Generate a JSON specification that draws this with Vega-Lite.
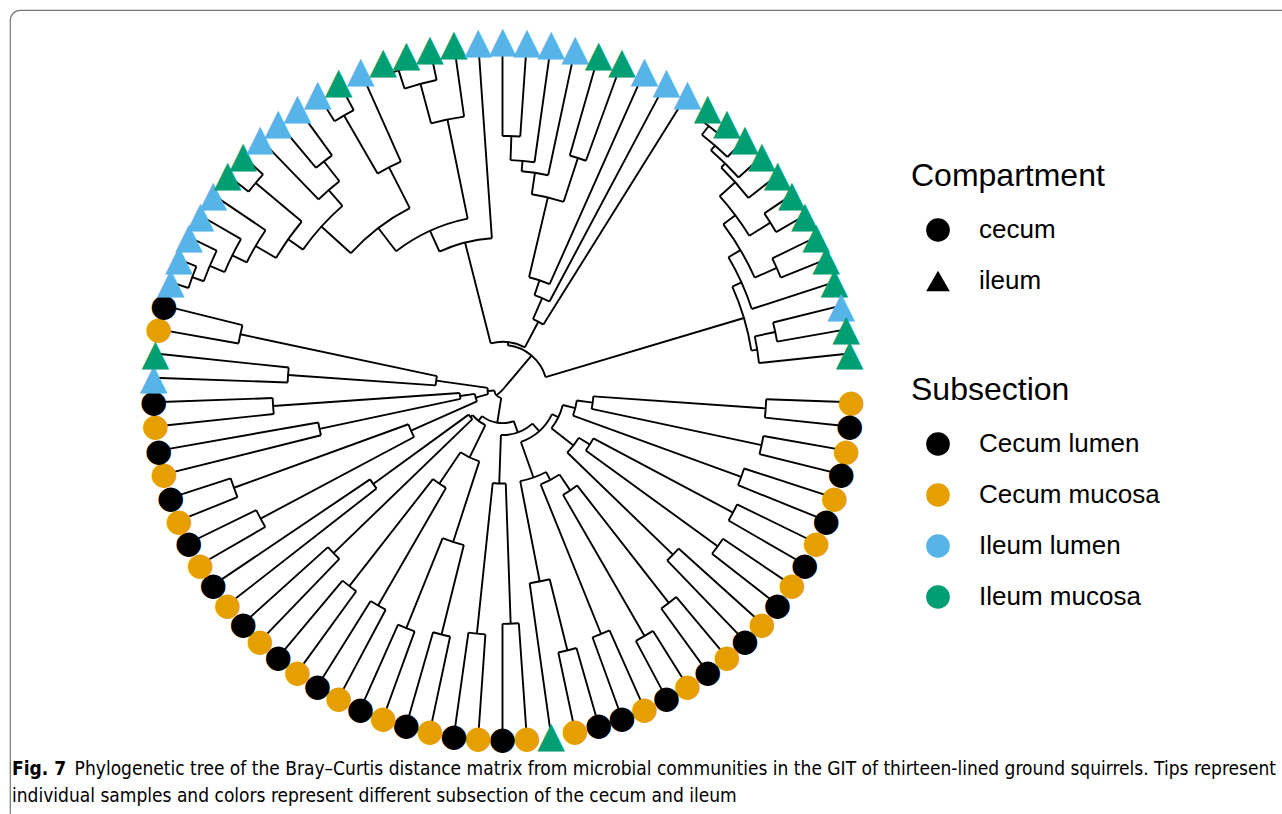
{
  "$schema": "https://vega.github.io/schema/vega-lite/v6.json",
  "width": 1292,
  "height": 824,
  "autosize": {"type": "none"},
  "padding": {"left": 10, "top": 10, "right": -20, "bottom": -20},
  "background": "white",
  "title": {
    "text": "Fig. 7",
    "subtitle": [
      "\u2800\u2800\u2800\u2800\u2800Phylogenetic tree of the Bray\u2013Curtis distance matrix from microbial communities in the GIT of thirteen-lined ground squirrels. Tips represent",
      "individual samples and colors represent different subsection of the cecum and ileum"
    ],
    "orient": "bottom",
    "anchor": "start",
    "frame": "group",
    "offset": -74,
    "dx": 2,
    "font": "DejaVu Sans Condensed",
    "fontSize": 19,
    "fontWeight": "bold",
    "color": "black",
    "subtitleFont": "DejaVu Sans Condensed",
    "subtitleFontSize": 19,
    "subtitleFontWeight": "normal",
    "subtitleColor": "black",
    "subtitleLineHeight": 27,
    "subtitlePadding": -19,
    "limit": 0
  },
  "datasets": {
    "nodes": [
      {"id": "root", "a": 227.53, "r": 0},
      {"id": "U", "parent": "root", "a": 40.05, "r": 0.129, "amin": 6.71, "amax": 73.39},
      {"id": "P", "parent": "U", "a": 6.71, "r": 0.138, "amin": 345.76, "amax": 387.66},
      {"id": "TL", "parent": "P", "a": 345.76, "r": 0.436, "amin": 335.52, "amax": 356},
      {"id": "NA2", "parent": "TL", "a": 335.52, "r": 0.501, "amin": 322.53, "amax": 348.5},
      {"id": "NB2", "parent": "NA2", "a": 322.53, "r": 0.585, "amin": 312.06, "amax": 333},
      {"id": "NC2", "parent": "NB2", "a": 312.06, "r": 0.699, "amin": 305.13, "amax": 319},
      {"id": "G5056", "parent": "NC2", "a": 305.13, "r": 0.751, "amin": 300.25, "amax": 310},
      {"id": "N5054", "parent": "G5056", "a": 300.25, "r": 0.819, "amin": 296.5, "amax": 304},
      {"id": "N5053", "parent": "N5054", "a": 296.5, "r": 0.865, "amin": 293, "amax": 300},
      {"id": "N5052", "parent": "N5053", "a": 293, "r": 0.911, "amin": 290, "amax": 296},
      {"id": "N5051", "parent": "N5052", "a": 290, "r": 0.946, "amin": 288, "amax": 292},
      {"id": "N5556", "parent": "G5056", "a": 310, "r": 0.923, "amin": 308, "amax": 312},
      {"id": "N5759", "parent": "NC2", "a": 319, "r": 0.759, "amin": 316, "amax": 322},
      {"id": "N5859", "parent": "N5759", "a": 322, "r": 0.831, "amin": 320, "amax": 324},
      {"id": "N6062", "parent": "NB2", "a": 333, "r": 0.716, "amin": 330, "amax": 336},
      {"id": "N6061", "parent": "N6062", "a": 330, "r": 0.908, "amin": 328, "amax": 332},
      {"id": "N6366", "parent": "NA2", "a": 348.5, "r": 0.791, "amin": 345, "amax": 352},
      {"id": "N6365", "parent": "N6366", "a": 345, "r": 0.908, "amin": 342, "amax": 348},
      {"id": "N6364", "parent": "N6365", "a": 342, "r": 0.963, "amin": 340, "amax": 344},
      {"id": "TM", "parent": "P", "a": 27.66, "r": 0.221, "amin": 23.31, "amax": 32},
      {"id": "N100", "parent": "TM", "a": 23.31, "r": 0.287, "amin": 18.63, "amax": 28},
      {"id": "N116", "parent": "N100", "a": 18.63, "r": 0.332, "amin": 13.25, "amax": 24},
      {"id": "TM2", "parent": "N116", "a": 13.25, "r": 0.567, "amin": 8.5, "amax": 18},
      {"id": "N71", "parent": "TM2", "a": 8.5, "r": 0.629, "amin": 5, "amax": 12},
      {"id": "N70", "parent": "N71", "a": 5, "r": 0.659, "amin": 2, "amax": 8},
      {"id": "N6869", "parent": "N70", "a": 2, "r": 0.728, "amin": 0, "amax": 4},
      {"id": "N7273", "parent": "TM2", "a": 18, "r": 0.699, "amin": 16, "amax": 20},
      {"id": "RI", "parent": "U", "a": 73.39, "r": 0.722, "amin": 65.78, "amax": 81},
      {"id": "N86", "parent": "RI", "a": 65.78, "r": 0.751, "amin": 59.56, "amax": 72},
      {"id": "N8385", "parent": "N86", "a": 59.56, "r": 0.791, "amin": 53.13, "amax": 66},
      {"id": "N8183", "parent": "N8385", "a": 53.13, "r": 0.834, "amin": 48.25, "amax": 58},
      {"id": "N81", "parent": "N8183", "a": 48.25, "r": 0.894, "amin": 44.5, "amax": 52},
      {"id": "N80", "parent": "N81", "a": 44.5, "r": 0.91, "amin": 41, "amax": 48},
      {"id": "N79", "parent": "N80", "a": 41, "r": 0.928, "amin": 38, "amax": 44},
      {"id": "N7778", "parent": "N79", "a": 38, "r": 0.96, "amin": 36, "amax": 40},
      {"id": "N8283", "parent": "N8183", "a": 58, "r": 0.905, "amin": 56, "amax": 60},
      {"id": "N8485", "parent": "N8385", "a": 66, "r": 0.86, "amin": 64, "amax": 68},
      {"id": "N89", "parent": "RI", "a": 81, "r": 0.739, "amin": 78, "amax": 84},
      {"id": "N8788", "parent": "N89", "a": 78, "r": 0.799, "amin": 76, "amax": 80},
      {"id": "Lower", "parent": "root", "a": 227.53, "r": 0.023, "amin": 189.06, "amax": 266},
      {"id": "Y4", "parent": "Lower", "a": 189.06, "r": 0.095, "amin": 160.13, "amax": 218},
      {"id": "Y1", "parent": "Y4", "a": 160.13, "r": 0.129, "amin": 138.25, "amax": 182},
      {"id": "ND", "parent": "Y1", "a": 138.25, "r": 0.158, "amin": 116, "amax": 160.5},
      {"id": "NC", "parent": "ND", "a": 116, "r": 0.178, "amin": 104, "amax": 128},
      {"id": "NB", "parent": "NC", "a": 104, "r": 0.215, "amin": 98, "amax": 110},
      {"id": "NA", "parent": "NB", "a": 98, "r": 0.261, "amin": 94, "amax": 102},
      {"id": "Na", "parent": "NA", "a": 94, "r": 0.756, "amin": 92, "amax": 96},
      {"id": "Nb", "parent": "NA", "a": 102, "r": 0.759, "amin": 100, "amax": 104},
      {"id": "Nc", "parent": "NB", "a": 110, "r": 0.728, "amin": 108, "amax": 112},
      {"id": "Ndef", "parent": "NC", "a": 128, "r": 0.258, "amin": 122, "amax": 134},
      {"id": "Nde", "parent": "Ndef", "a": 122, "r": 0.295, "amin": 118, "amax": 126},
      {"id": "Nd", "parent": "Nde", "a": 118, "r": 0.748, "amin": 116, "amax": 120},
      {"id": "Ne", "parent": "Nde", "a": 126, "r": 0.762, "amin": 124, "amax": 128},
      {"id": "Nf", "parent": "Ndef", "a": 134, "r": 0.679, "amin": 132, "amax": 136},
      {"id": "Nghik", "parent": "ND", "a": 160.5, "r": 0.266, "amin": 152, "amax": 169},
      {"id": "Nghi", "parent": "Nghik", "a": 152, "r": 0.292, "amin": 146, "amax": 158},
      {"id": "Ngh", "parent": "Nghi", "a": 146, "r": 0.347, "amin": 142, "amax": 150},
      {"id": "Ng", "parent": "Ngh", "a": 142, "r": 0.774, "amin": 140, "amax": 144},
      {"id": "Nh", "parent": "Ngh", "a": 150, "r": 0.814, "amin": 148, "amax": 152},
      {"id": "Ni", "parent": "Nghi", "a": 158, "r": 0.754, "amin": 156, "amax": 160},
      {"id": "Nk", "parent": "Nghik", "a": 169, "r": 0.559, "amin": 166, "amax": 172},
      {"id": "Nj", "parent": "Nk", "a": 166, "r": 0.769, "amin": 164, "amax": 168},
      {"id": "Nlm", "parent": "Y1", "a": 182, "r": 0.268, "amin": 178, "amax": 186},
      {"id": "Nl", "parent": "Nlm", "a": 178, "r": 0.67, "amin": 176, "amax": 180},
      {"id": "Nm", "parent": "Nlm", "a": 186, "r": 0.702, "amin": 184, "amax": 188},
      {"id": "Y3", "parent": "Y4", "a": 218, "r": 0.112, "amin": 206, "amax": 230},
      {"id": "NOP", "parent": "Y3", "a": 206, "r": 0.215, "amin": 198, "amax": 214},
      {"id": "Nno", "parent": "NOP", "a": 198, "r": 0.458, "amin": 194, "amax": 202},
      {"id": "Nn", "parent": "Nno", "a": 194, "r": 0.722, "amin": 192, "amax": 196},
      {"id": "No", "parent": "Nno", "a": 202, "r": 0.736, "amin": 200, "amax": 204},
      {"id": "Npq", "parent": "NOP", "a": 214, "r": 0.324, "amin": 210, "amax": 218},
      {"id": "Np", "parent": "Npq", "a": 210, "r": 0.713, "amin": 208, "amax": 212},
      {"id": "Nq", "parent": "Npq", "a": 218, "r": 0.713, "amin": 216, "amax": 220},
      {"id": "NS", "parent": "Y3", "a": 230, "r": 0.12, "amin": 226, "amax": 234},
      {"id": "Ns", "parent": "NS", "a": 226, "r": 0.673, "amin": 224, "amax": 228},
      {"id": "N3637", "parent": "NS", "a": 234, "r": 0.458, "amin": 232, "amax": 236},
      {"id": "Y6", "parent": "Lower", "a": 266, "r": 0.043, "amin": 254, "amax": 278},
      {"id": "Y5", "parent": "Y6", "a": 254, "r": 0.08, "amin": 246, "amax": 262},
      {"id": "Ntu", "parent": "Y5", "a": 246, "r": 0.287, "amin": 242, "amax": 250},
      {"id": "Nt", "parent": "Ntu", "a": 242, "r": 0.785, "amin": 240, "amax": 244},
      {"id": "Nu", "parent": "Ntu", "a": 250, "r": 0.819, "amin": 248, "amax": 252},
      {"id": "Nvw", "parent": "Y5", "a": 262, "r": 0.123, "amin": 258, "amax": 266},
      {"id": "Nv", "parent": "Nvw", "a": 258, "r": 0.536, "amin": 256, "amax": 260},
      {"id": "Nw", "parent": "Nvw", "a": 266, "r": 0.659, "amin": 264, "amax": 268},
      {"id": "Nxy", "parent": "Y6", "a": 278, "r": 0.192, "amin": 274, "amax": 282},
      {"id": "Nx", "parent": "Nxy", "a": 274, "r": 0.616, "amin": 272, "amax": 276},
      {"id": "Ny", "parent": "Nxy", "a": 282, "r": 0.768, "amin": 280, "amax": 284},
      {"id": "t1", "parent": "Na", "a": 92, "r": 1, "subsection": "Cecum mucosa", "compartment": "cecum"},
      {"id": "t2", "parent": "Na", "a": 96, "r": 1, "subsection": "Cecum lumen", "compartment": "cecum"},
      {"id": "t3", "parent": "Nb", "a": 100, "r": 1, "subsection": "Cecum mucosa", "compartment": "cecum"},
      {"id": "t4", "parent": "Nb", "a": 104, "r": 1, "subsection": "Cecum lumen", "compartment": "cecum"},
      {"id": "t5", "parent": "Nc", "a": 108, "r": 1, "subsection": "Cecum mucosa", "compartment": "cecum"},
      {"id": "t6", "parent": "Nc", "a": 112, "r": 1, "subsection": "Cecum lumen", "compartment": "cecum"},
      {"id": "t7", "parent": "Nd", "a": 116, "r": 1, "subsection": "Cecum mucosa", "compartment": "cecum"},
      {"id": "t8", "parent": "Nd", "a": 120, "r": 1, "subsection": "Cecum lumen", "compartment": "cecum"},
      {"id": "t9", "parent": "Ne", "a": 124, "r": 1, "subsection": "Cecum mucosa", "compartment": "cecum"},
      {"id": "t10", "parent": "Ne", "a": 128, "r": 1, "subsection": "Cecum lumen", "compartment": "cecum"},
      {"id": "t11", "parent": "Nf", "a": 132, "r": 1, "subsection": "Cecum mucosa", "compartment": "cecum"},
      {"id": "t12", "parent": "Nf", "a": 136, "r": 1, "subsection": "Cecum lumen", "compartment": "cecum"},
      {"id": "t13", "parent": "Ng", "a": 140, "r": 1, "subsection": "Cecum mucosa", "compartment": "cecum"},
      {"id": "t14", "parent": "Ng", "a": 144, "r": 1, "subsection": "Cecum lumen", "compartment": "cecum"},
      {"id": "t15", "parent": "Nh", "a": 148, "r": 1, "subsection": "Cecum mucosa", "compartment": "cecum"},
      {"id": "t16", "parent": "Nh", "a": 152, "r": 1, "subsection": "Cecum lumen", "compartment": "cecum"},
      {"id": "t17", "parent": "Ni", "a": 156, "r": 1, "subsection": "Cecum mucosa", "compartment": "cecum"},
      {"id": "t18", "parent": "Ni", "a": 160, "r": 1, "subsection": "Cecum lumen", "compartment": "cecum"},
      {"id": "t19", "parent": "Nj", "a": 164, "r": 1, "subsection": "Cecum lumen", "compartment": "cecum"},
      {"id": "t20", "parent": "Nj", "a": 168, "r": 1, "subsection": "Cecum mucosa", "compartment": "cecum"},
      {"id": "t21", "parent": "Nk", "a": 172, "r": 1, "subsection": "Ileum mucosa", "compartment": "ileum"},
      {"id": "t22", "parent": "Nl", "a": 176, "r": 1, "subsection": "Cecum mucosa", "compartment": "cecum"},
      {"id": "t23", "parent": "Nl", "a": 180, "r": 1, "subsection": "Cecum lumen", "compartment": "cecum"},
      {"id": "t24", "parent": "Nm", "a": 184, "r": 1, "subsection": "Cecum mucosa", "compartment": "cecum"},
      {"id": "t25", "parent": "Nm", "a": 188, "r": 1, "subsection": "Cecum lumen", "compartment": "cecum"},
      {"id": "t26", "parent": "Nn", "a": 192, "r": 1, "subsection": "Cecum mucosa", "compartment": "cecum"},
      {"id": "t27", "parent": "Nn", "a": 196, "r": 1, "subsection": "Cecum lumen", "compartment": "cecum"},
      {"id": "t28", "parent": "No", "a": 200, "r": 1, "subsection": "Cecum mucosa", "compartment": "cecum"},
      {"id": "t29", "parent": "No", "a": 204, "r": 1, "subsection": "Cecum lumen", "compartment": "cecum"},
      {"id": "t30", "parent": "Np", "a": 208, "r": 1, "subsection": "Cecum mucosa", "compartment": "cecum"},
      {"id": "t31", "parent": "Np", "a": 212, "r": 1, "subsection": "Cecum lumen", "compartment": "cecum"},
      {"id": "t32", "parent": "Nq", "a": 216, "r": 1, "subsection": "Cecum mucosa", "compartment": "cecum"},
      {"id": "t33", "parent": "Nq", "a": 220, "r": 1, "subsection": "Cecum lumen", "compartment": "cecum"},
      {"id": "t34", "parent": "Ns", "a": 224, "r": 1, "subsection": "Cecum mucosa", "compartment": "cecum"},
      {"id": "t35", "parent": "Ns", "a": 228, "r": 1, "subsection": "Cecum lumen", "compartment": "cecum"},
      {"id": "t36", "parent": "N3637", "a": 232, "r": 1, "subsection": "Cecum mucosa", "compartment": "cecum"},
      {"id": "t37", "parent": "N3637", "a": 236, "r": 1, "subsection": "Cecum lumen", "compartment": "cecum"},
      {"id": "t38", "parent": "Nt", "a": 240, "r": 1, "subsection": "Cecum mucosa", "compartment": "cecum"},
      {"id": "t39", "parent": "Nt", "a": 244, "r": 1, "subsection": "Cecum lumen", "compartment": "cecum"},
      {"id": "t40", "parent": "Nu", "a": 248, "r": 1, "subsection": "Cecum mucosa", "compartment": "cecum"},
      {"id": "t41", "parent": "Nu", "a": 252, "r": 1, "subsection": "Cecum lumen", "compartment": "cecum"},
      {"id": "t42", "parent": "Nv", "a": 256, "r": 1, "subsection": "Cecum mucosa", "compartment": "cecum"},
      {"id": "t43", "parent": "Nv", "a": 260, "r": 1, "subsection": "Cecum lumen", "compartment": "cecum"},
      {"id": "t44", "parent": "Nw", "a": 264, "r": 1, "subsection": "Cecum mucosa", "compartment": "cecum"},
      {"id": "t45", "parent": "Nw", "a": 268, "r": 1, "subsection": "Cecum lumen", "compartment": "cecum"},
      {"id": "t46", "parent": "Nx", "a": 272, "r": 1, "subsection": "Ileum lumen", "compartment": "ileum"},
      {"id": "t47", "parent": "Nx", "a": 276, "r": 1, "subsection": "Ileum mucosa", "compartment": "ileum"},
      {"id": "t48", "parent": "Ny", "a": 280, "r": 1, "subsection": "Cecum mucosa", "compartment": "cecum"},
      {"id": "t49", "parent": "Ny", "a": 284, "r": 1, "subsection": "Cecum lumen", "compartment": "cecum"},
      {"id": "t50", "parent": "N5051", "a": 288, "r": 1, "subsection": "Ileum lumen", "compartment": "ileum"},
      {"id": "t51", "parent": "N5051", "a": 292, "r": 1, "subsection": "Ileum lumen", "compartment": "ileum"},
      {"id": "t52", "parent": "N5052", "a": 296, "r": 1, "subsection": "Ileum lumen", "compartment": "ileum"},
      {"id": "t53", "parent": "N5053", "a": 300, "r": 1, "subsection": "Ileum lumen", "compartment": "ileum"},
      {"id": "t54", "parent": "N5054", "a": 304, "r": 1, "subsection": "Ileum lumen", "compartment": "ileum"},
      {"id": "t55", "parent": "N5556", "a": 308, "r": 1, "subsection": "Ileum mucosa", "compartment": "ileum"},
      {"id": "t56", "parent": "N5556", "a": 312, "r": 1, "subsection": "Ileum mucosa", "compartment": "ileum"},
      {"id": "t57", "parent": "N5759", "a": 316, "r": 1, "subsection": "Ileum lumen", "compartment": "ileum"},
      {"id": "t58", "parent": "N5859", "a": 320, "r": 1, "subsection": "Ileum lumen", "compartment": "ileum"},
      {"id": "t59", "parent": "N5859", "a": 324, "r": 1, "subsection": "Ileum lumen", "compartment": "ileum"},
      {"id": "t60", "parent": "N6061", "a": 328, "r": 1, "subsection": "Ileum lumen", "compartment": "ileum"},
      {"id": "t61", "parent": "N6061", "a": 332, "r": 1, "subsection": "Ileum mucosa", "compartment": "ileum"},
      {"id": "t62", "parent": "N6062", "a": 336, "r": 1, "subsection": "Ileum lumen", "compartment": "ileum"},
      {"id": "t63", "parent": "N6364", "a": 340, "r": 1, "subsection": "Ileum mucosa", "compartment": "ileum"},
      {"id": "t64", "parent": "N6364", "a": 344, "r": 1, "subsection": "Ileum mucosa", "compartment": "ileum"},
      {"id": "t65", "parent": "N6365", "a": 348, "r": 1, "subsection": "Ileum mucosa", "compartment": "ileum"},
      {"id": "t66", "parent": "N6366", "a": 352, "r": 1, "subsection": "Ileum mucosa", "compartment": "ileum"},
      {"id": "t67", "parent": "TL", "a": 356, "r": 1, "subsection": "Ileum lumen", "compartment": "ileum"},
      {"id": "t68", "parent": "N6869", "a": 0, "r": 1, "subsection": "Ileum lumen", "compartment": "ileum"},
      {"id": "t69", "parent": "N6869", "a": 4, "r": 1, "subsection": "Ileum lumen", "compartment": "ileum"},
      {"id": "t70", "parent": "N70", "a": 8, "r": 1, "subsection": "Ileum lumen", "compartment": "ileum"},
      {"id": "t71", "parent": "N71", "a": 12, "r": 1, "subsection": "Ileum lumen", "compartment": "ileum"},
      {"id": "t72", "parent": "N7273", "a": 16, "r": 1, "subsection": "Ileum mucosa", "compartment": "ileum"},
      {"id": "t73", "parent": "N7273", "a": 20, "r": 1, "subsection": "Ileum mucosa", "compartment": "ileum"},
      {"id": "t74", "parent": "N116", "a": 24, "r": 1, "subsection": "Ileum lumen", "compartment": "ileum"},
      {"id": "t75", "parent": "N100", "a": 28, "r": 1, "subsection": "Ileum lumen", "compartment": "ileum"},
      {"id": "t76", "parent": "TM", "a": 32, "r": 1, "subsection": "Ileum lumen", "compartment": "ileum"},
      {"id": "t77", "parent": "N7778", "a": 36, "r": 1, "subsection": "Ileum mucosa", "compartment": "ileum"},
      {"id": "t78", "parent": "N7778", "a": 40, "r": 1, "subsection": "Ileum mucosa", "compartment": "ileum"},
      {"id": "t79", "parent": "N79", "a": 44, "r": 1, "subsection": "Ileum mucosa", "compartment": "ileum"},
      {"id": "t80", "parent": "N80", "a": 48, "r": 1, "subsection": "Ileum mucosa", "compartment": "ileum"},
      {"id": "t81", "parent": "N81", "a": 52, "r": 1, "subsection": "Ileum mucosa", "compartment": "ileum"},
      {"id": "t82", "parent": "N8283", "a": 56, "r": 1, "subsection": "Ileum mucosa", "compartment": "ileum"},
      {"id": "t83", "parent": "N8283", "a": 60, "r": 1, "subsection": "Ileum mucosa", "compartment": "ileum"},
      {"id": "t84", "parent": "N8485", "a": 64, "r": 1, "subsection": "Ileum mucosa", "compartment": "ileum"},
      {"id": "t85", "parent": "N8485", "a": 68, "r": 1, "subsection": "Ileum mucosa", "compartment": "ileum"},
      {"id": "t86", "parent": "N86", "a": 72, "r": 1, "subsection": "Ileum mucosa", "compartment": "ileum"},
      {"id": "t87", "parent": "N8788", "a": 76, "r": 1, "subsection": "Ileum lumen", "compartment": "ileum"},
      {"id": "t88", "parent": "N8788", "a": 80, "r": 1, "subsection": "Ileum mucosa", "compartment": "ileum"},
      {"id": "t89", "parent": "N89", "a": 84, "r": 1, "subsection": "Ileum mucosa", "compartment": "ileum"}
    ]
  },
  "data": {"name": "nodes"},
  "layer": [
    {
      "transform": [
        {"filter": "isValid(datum.parent)"},
        {"lookup": "parent", "from": {"data": {"name": "nodes"}, "key": "id", "fields": ["r"]}, "as": ["pr"]}
      ],
      "mark": {"type": "arc", "filled": false, "stroke": "black", "strokeWidth": 1.9},
      "encoding": {
        "x": {"value": 492.5},
        "y": {"value": 380},
        "theta": {"field": "a", "type": "quantitative", "stack": null, "scale": {"domain": [0, 360], "range": [0, 6.283185307179586], "nice": false, "zero": false}},
        "theta2": {"field": "a"},
        "radius": {"field": "pr", "type": "quantitative", "scale": {"type": "linear", "domain": [0, 1], "range": [0, 349], "nice": false, "zero": true}},
        "radius2": {"field": "r"}
      }
    },
    {
      "transform": [{"filter": "isValid(datum.amin)"}],
      "mark": {"type": "arc", "filled": false, "stroke": "black", "strokeWidth": 1.9},
      "encoding": {
        "x": {"value": 492.5},
        "y": {"value": 380},
        "theta": {"field": "amin", "type": "quantitative", "stack": null, "scale": {"domain": [0, 360], "range": [0, 6.283185307179586], "nice": false, "zero": false}},
        "theta2": {"field": "amax"},
        "radius": {"field": "r", "type": "quantitative", "scale": {"type": "linear", "domain": [0, 1], "range": [0, 349], "nice": false, "zero": true}},
        "radius2": {"field": "r"}
      }
    },
    {
      "transform": [{"filter": "datum.compartment === 'cecum'"}],
      "mark": {"type": "text", "text": "\u25cf", "font": "DejaVu Sans", "fontSize": 32, "align": "center", "baseline": "middle"},
      "encoding": {
        "x": {"value": 492.5},
        "y": {"value": 380},
        "theta": {"field": "a", "type": "quantitative", "stack": null, "scale": {"domain": [0, 360], "range": [0, 6.283185307179586], "nice": false, "zero": false}},
        "radius": {"field": "r", "type": "quantitative", "scale": {"type": "linear", "domain": [0, 1], "range": [0, 349], "nice": false, "zero": true}},
        "color": {
          "field": "subsection", "type": "nominal",
          "scale": {"domain": ["Cecum lumen", "Cecum mucosa", "Ileum lumen", "Ileum mucosa"], "range": ["#000000", "#E69F00", "#56B4E9", "#009E73"]},
          "legend": {"title": "Subsection", "orient": "none", "legendX": 901, "legendY": 365}
        }
      }
    },
    {
      "transform": [{"filter": "datum.compartment === 'ileum'"}],
      "mark": {"type": "text", "text": "\u25b2", "font": "DejaVu Sans", "fontSize": 36, "align": "center", "baseline": "middle"},
      "encoding": {
        "x": {"value": 492.5},
        "y": {"value": 380},
        "theta": {"field": "a", "type": "quantitative", "stack": null, "scale": {"domain": [0, 360], "range": [0, 6.283185307179586], "nice": false, "zero": false}},
        "radius": {"field": "r", "type": "quantitative", "scale": {"type": "linear", "domain": [0, 1], "range": [0, 349], "nice": false, "zero": true}},
        "color": {
          "field": "subsection", "type": "nominal",
          "scale": {"domain": ["Cecum lumen", "Cecum mucosa", "Ileum lumen", "Ileum mucosa"], "range": ["#000000", "#E69F00", "#56B4E9", "#009E73"]},
          "legend": {"title": "Subsection", "orient": "none", "legendX": 901, "legendY": 365}
        }
      }
    },
    {
      "transform": [{"filter": "isValid(datum.compartment)"}],
      "mark": {"type": "point", "filled": true, "opacity": 0},
      "encoding": {
        "color": {
          "field": "subsection", "type": "nominal",
          "scale": {"domain": ["Cecum lumen", "Cecum mucosa", "Ileum lumen", "Ileum mucosa"], "range": ["#000000", "#E69F00", "#56B4E9", "#009E73"]},
          "legend": {"title": "Subsection", "orient": "none", "legendX": 901, "legendY": 365}
        },
        "shape": {
          "field": "compartment", "type": "nominal",
          "scale": {"domain": ["cecum", "ileum"], "range": ["circle", "triangle-up"]},
          "legend": {"title": "Compartment", "orient": "none", "legendX": 901, "legendY": 151, "symbolFillColor": "black"}
        }
      }
    }
  ],
  "config": {
    "view": {"stroke": "#767676", "strokeWidth": 1.2, "cornerRadius": 10},
    "legend": {
      "titleFont": "Liberation Sans",
      "titleFontSize": 32,
      "titleFontWeight": "normal",
      "titleColor": "black",
      "titlePadding": 24,
      "titleLimit": 500,
      "labelFont": "Liberation Sans",
      "labelFontSize": 26,
      "labelColor": "black",
      "labelOffset": 28,
      "labelLimit": 500,
      "symbolSize": 560,
      "symbolStrokeWidth": 0,
      "symbolOpacity": 1,
      "symbolOffset": 14,
      "rowPadding": 25,
      "padding": 0
    }
  }
}
